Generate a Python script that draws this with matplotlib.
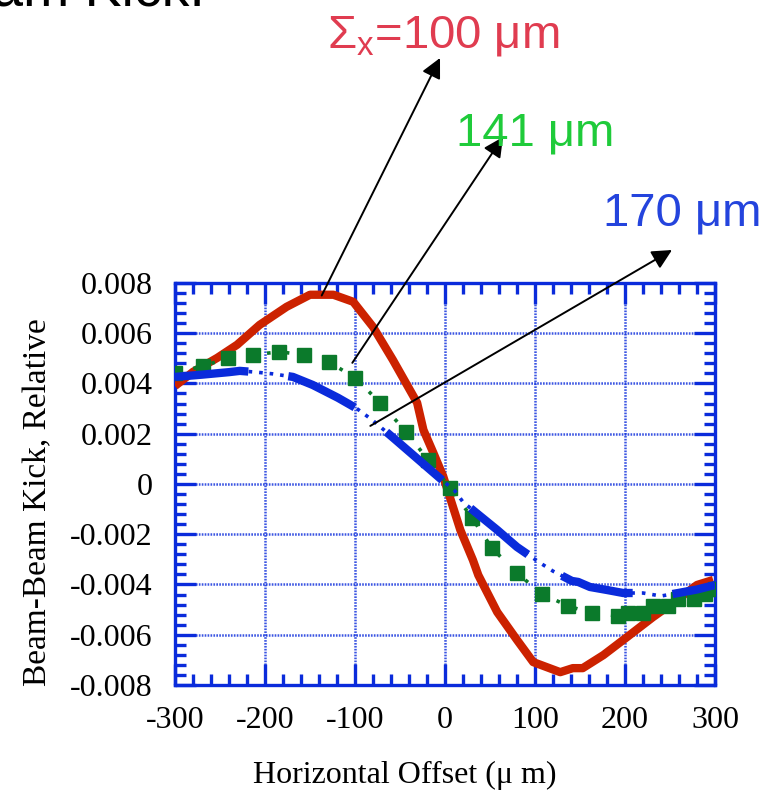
import numpy as np
import matplotlib
matplotlib.use("Agg")
import matplotlib.pyplot as plt
from matplotlib.ticker import MultipleLocator

plt.rcParams["axes.unicode_minus"] = False
plt.rcParams["lines.scale_dashes"] = False

# beam-beam kick vs horizontal offset (kick in units of 1e-3)
red_x = [-300, -280, -253, -231, -206, -176, -150, -124, -102, -80, -58, -31, -24, -13,
         -2, 17, 31, 37, 58, 80, 98, 128, 142, 153, 176, 202, 231, 253, 280, 298]
red_y = [3.9, 4.46, 5.02, 5.54, 6.33, 7.05, 7.53, 7.53, 7.25, 6.25, 4.94, 3.23, 2.15, 1.24,
         0.3, -1.83, -3.03, -3.63, -5.1, -6.21, -7.09, -7.49, -7.33, -7.33, -6.81, -6.1,
         -5.3, -4.74, -4.02, -3.82]

green_x = [-300, -269, -241, -213, -184, -157, -129, -100, -72, -43, -19, 6, 30, 52, 80,
           108, 137, 163, 192, 203, 220, 231, 248, 259, 277, 289, 300]
green_y = [4.4, 4.7, 5.0, 5.14, 5.26, 5.14, 4.86, 4.22, 3.23, 2.07, 0.96, -0.16, -1.35,
           -2.55, -3.55, -4.38, -4.86, -5.14, -5.25, -5.14, -5.14, -4.84, -4.84, -4.58,
           -4.56, -4.38, -4.2]

blue_x = [-300, -270, -240, -228, -210, -191, -169, -147, -119, -98, -81, -58, -6, 11, 20,
          35, 58, 80, 106, 120, 141, 148, 161, 180, 198, 220, 240, 259, 280, 300]
blue_y = [4.26, 4.35, 4.45, 4.5, 4.45, 4.38, 4.26, 3.94, 3.43, 3.0, 2.55, 1.85, 0.24, -0.28,
          -0.72, -1.16, -1.83, -2.51, -3.15, -3.47, -3.86, -3.9, -4.1, -4.22, -4.34, -4.34,
          -4.46, -4.34, -4.2, -4.02]

xticks = [-300, -200, -100, 0, 100, 200, 300]
yticks = [-0.008, -0.006, -0.004, -0.002, 0, 0.002, 0.004, 0.006, 0.008]
ytick_labels = ["-0.008", "-0.006", "-0.004", "-0.002", "0", "0.002", "0.004", "0.006", "0.008"]

sigma_labels = [r"$\mathregular{\Sigma_x}$=100 μm", "141 μm", "170 μm"]

AX_BLUE = "#0a2bdb"
RED = "#cc2200"
GREEN = "#0b7a2b"
SERIF = "Liberation Serif"
SANS = "Liberation Sans"

fig = plt.figure(figsize=(7.71, 7.95), dpi=100)
ax = fig.add_axes([0.2270, 0.1384, 0.7004, 0.5057])

k = 1e-3
ax.plot(red_x, np.array(red_y) * k, color=RED, lw=6, solid_joinstyle="round",
        solid_capstyle="butt", zorder=3)
ax.plot(green_x, np.array(green_y) * k, color=GREEN, lw=2.6, ls=(0, (2.6, 11)),
        marker="s", ms=9.4, mec=GREEN, zorder=4)
ax.plot(blue_x, np.array(blue_y) * k, color=AX_BLUE, lw=2.6, ls=(0, (2.6, 5)), zorder=5)
ax.plot(blue_x, np.array(blue_y) * k, color=AX_BLUE, lw=6, ls=(0, (53, 29)),
        dash_capstyle="butt", zorder=5)

ax.set_xlim(-300, 300)
ax.set_ylim(-0.008, 0.008)
ax.set_xticks(xticks)
ax.set_xticklabels([str(v) for v in xticks])
ax.set_yticks(yticks)
ax.set_yticklabels(ytick_labels)
ax.xaxis.set_minor_locator(MultipleLocator(20))
ax.yaxis.set_minor_locator(MultipleLocator(0.0004))

ax.tick_params(which="both", direction="in", top=True, right=True, color=AX_BLUE,
               width=2.4)
ax.tick_params(which="major", length=15)
ax.tick_params(which="minor", length=8)
ax.tick_params(axis="x", which="major", pad=15)
ax.tick_params(axis="y", which="major", pad=16)
for lab in ax.get_xticklabels() + ax.get_yticklabels():
    lab.set_fontfamily(SERIF)
    lab.set_fontsize(23)

for s in ax.spines.values():
    s.set_color(AX_BLUE)
    s.set_linewidth(2.4)

ax.grid(True, which="major", color=AX_BLUE, lw=1.8, ls=(0, (1.2, 0.9)), alpha=0.8)
ax.set_axisbelow(True)

ax.set_xlabel("Horizontal Offset (μ m)", fontfamily=SERIF, fontsize=23)
ax.xaxis.set_label_coords(0.426, -0.19)
ax.set_ylabel("Beam-Beam Kick, Relative", fontfamily=SERIF, fontsize=24)
ax.yaxis.set_label_coords(-0.225, 0.455)

# arrows from the curves up to the width labels
arrow_tails = [(-137, 0.0075), (-103, 0.00482), (-83, 0.00231)]
arrow_heads = [(440 / 771, 1 - 58 / 795), (503 / 771, 1 - 137 / 795), (672 / 771, 1 - 250 / 795)]
for tail, head in zip(arrow_tails, arrow_heads):
    ax.annotate("", xy=head, xycoords="figure fraction", xytext=tail, textcoords="data",
                arrowprops=dict(arrowstyle="-|>", color="black", lw=1.4, mutation_scale=30,
                                shrinkA=0, shrinkB=0),
                annotation_clip=False, zorder=6)

label_pos = [(327 / 771, 1 - 47 / 795), (456 / 771, 1 - 146 / 795), (603 / 771, 1 - 225 / 795)]
label_col = ["#e03c50", "#1fcb3a", "#2444dd"]
for txt, (px, py), c in zip(sigma_labels, label_pos, label_col):
    fig.text(px, py, txt, color=c, fontsize=34, fontfamily=SANS, ha="left", va="baseline")

# slide title, cut off by the top edge
fig.text(205 / 771, 1 - 5 / 795, "Beam-Beam Kick:", fontsize=40, fontfamily=SANS,
         ha="right", va="baseline", color="black")

fig.savefig("out.png", dpi=100)
